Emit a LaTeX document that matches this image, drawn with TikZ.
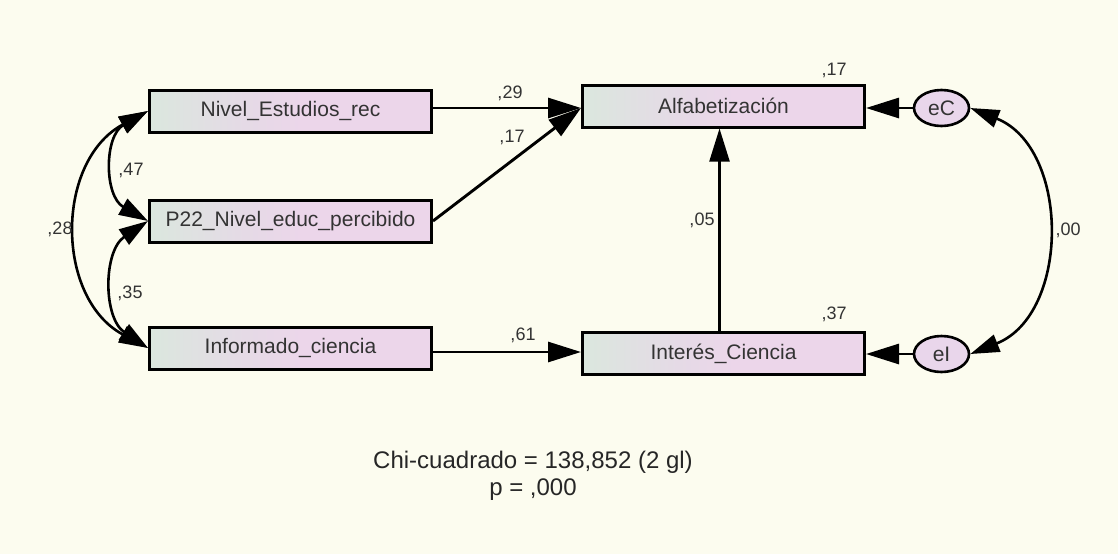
\documentclass[tikz,border=0pt]{standalone}
\usepackage{fontspec}
\setmainfont{Liberation Sans}
\usetikzlibrary{arrows.meta,shapes.geometric}

\definecolor{paper}{RGB}{252,252,239}
\definecolor{boxL}{RGB}{219,231,222}
\definecolor{boxM}{RGB}{229,218,230}
\definecolor{boxR}{RGB}{236,214,234}
\definecolor{errfill}{RGB}{233,214,235}

% left-to-right fill of the variable boxes: grey-green fading into lilac
\pgfdeclarehorizontalshading{varshade}{100bp}{
  color(0bp)=(boxL); color(25bp)=(boxL); color(42bp)=(boxM);
  color(52bp)=(boxR); color(75bp)=(boxR); color(100bp)=(boxR)}

\tikzset{
  var/.style={draw=black, line width=3pt, shading=varshade,
    minimum width=282pt, minimum height=42pt, inner sep=0pt,
    font=\fontsize{21}{24}\selectfont, text=black!80},
  err/.style={ellipse, draw=black, line width=2.6pt, fill=errfill,
    minimum width=55pt, minimum height=36pt, inner sep=0pt,
    font=\fontsize{21}{24}\selectfont, text=black!80},
  path/.style={line width=2.9pt, -{Triangle[length=33pt,width=20pt]}},
  cov/.style={line width=2.6pt,
    {Triangle[length=29pt,width=18pt]}-{Triangle[length=29pt,width=18pt]}},
  coef/.style={anchor=base, inner sep=0pt,
    font=\fontsize{18}{21}\selectfont, text=black!80},
  fitnote/.style={inner sep=0pt, align=center,
    font=\fontsize{24}{27}\selectfont, text=black!85}
}

\begin{document}
\begin{tikzpicture}[x=1pt,y=-1pt]
  \fill[paper] (0,0) rectangle (1118,554);
  \useasboundingbox (0,0) rectangle (1118,554);

  % observed variables
  \node[var] (niv) at (290.5,111) {Nivel\_Estudios\_rec};
  \node[var] (p22) at (290.5,221) {P22\_Nivel\_educ\_percibido};
  \node[var] (inf) at (290.5,348) {Informado\_ciencia};
  \node[var] (alf) at (723.5,106) {Alfabetización};
  \node[var] (int) at (723.5,353.5) {Interés\_Ciencia};

  % error terms
  \node[err] (eC) at (941.5,108) {eC};
  \node[err] (eI) at (941.5,354) {eI};

  % regression paths
  \draw[path] ([yshift=3pt]niv.east) -- ([yshift=-2pt]alf.west);
  \draw[path] (p22.east) -- ([yshift=-2pt]alf.west);
  \draw[path] ([yshift=-4pt]inf.east) -- ([yshift=1.5pt]int.west);
  \draw[path, line width=2.2pt] ([xshift=-4pt]int.north) -- ([xshift=-4pt]alf.south);
  \draw[path] (eC.west) -- (alf.east |- eC.west);
  \draw[path] (eI.west) -- (int.east |- eI.west);

  % covariances
  \draw[cov] (niv.west) .. controls +(-44,25) and +(-44,-25) .. (p22.west);
  \draw[cov] (p22.west) .. controls +(-45,30) and +(-45,-30) .. (inf.west);
  \draw[cov] (niv.west) .. controls +(-93,50) and +(-93,-50) .. (inf.west);
  \draw[cov] (eC.east) .. controls +(100,40) and +(100,-40) .. (eI.east);

  % estimates
  \node[coef] (c29) at (510,98) {,29};
  \node[coef] (c17a) at (512,142) {,17};
  \node[coef] (c61) at (523,340) {,61};
  \node[coef] (c05) at (702,225) {,05};
  \node[coef] (r17) at (834,75) {,17};
  \node[coef] (r37) at (834,319) {,37};
  \node[coef] (c47) at (131,175) {,47};
  \node[coef] (c35) at (130,298) {,35};
  \node[coef] (c28) at (60,234) {,28};
  \node[coef] (c00) at (1068,235) {,00};

  % model fit
  \node[fitnote] (chi) at (533,476) {Chi-cuadrado = 138,852 (2 gl)\\p = ,000};
\end{tikzpicture}
\end{document}
